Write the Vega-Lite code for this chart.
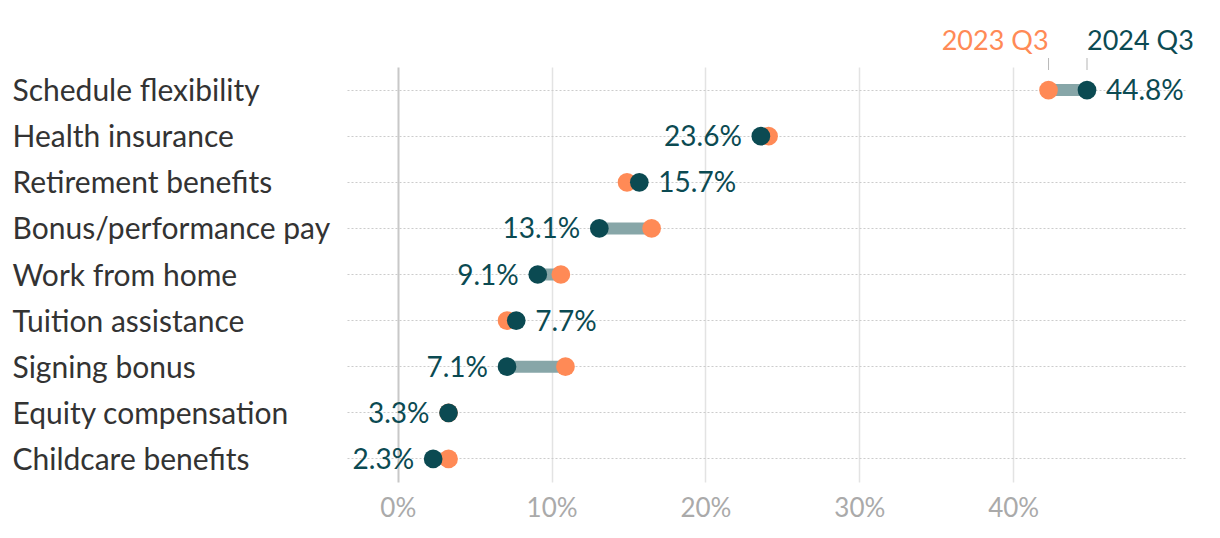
{
  "$schema": "https://vega.github.io/schema/vega-lite/v6.json",
  "width": 840,
  "height": 415,
  "autosize": {"type": "none"},
  "padding": {"left": 347, "top": 67, "right": 33, "bottom": 56},
  "background": "white",
  "config": {
    "view": {"stroke": null},
    "font": "Lato",
    "axisX": {"labelFontSize": 26, "labelColor": "#aaaaaa", "labelPadding": 13, "domain": false, "ticks": false, "title": null, "labelFont": "Lato"},
    "axisY": {"labelFontSize": 30, "labelColor": "#333333", "domain": false, "ticks": false, "title": null, "labelFont": "Lato", "labelLimit": 400}
  },
  "data": {
    "values": [
      {"benefit": "Schedule flexibility", "y2023": 0.423, "y2024": 0.448},
      {"benefit": "Health insurance", "y2023": 0.241, "y2024": 0.236},
      {"benefit": "Retirement benefits", "y2023": 0.149, "y2024": 0.157},
      {"benefit": "Bonus/performance pay", "y2023": 0.165, "y2024": 0.131},
      {"benefit": "Work from home", "y2023": 0.106, "y2024": 0.091},
      {"benefit": "Tuition assistance", "y2023": 0.071, "y2024": 0.077},
      {"benefit": "Signing bonus", "y2023": 0.109, "y2024": 0.071},
      {"benefit": "Equity compensation", "y2023": 0.033, "y2024": 0.033},
      {"benefit": "Childcare benefits", "y2023": 0.033, "y2024": 0.023}
    ]
  },
  "encoding": {
    "y": {
      "field": "benefit",
      "type": "nominal",
      "sort": null,
      "scale": {"paddingInner": 0, "paddingOuter": 0},
      "axis": {
        "grid": true,
        "gridDash": [2, 2],
        "gridColor": "#cccccc",
        "gridWidth": 1.2,
        "bandPosition": 0.5,
        "labelAlign": "left",
        "labelPadding": 335,
        "labelBaseline": "middle",
        "labelOffset": 2
      }
    }
  },
  "layer": [
    {
      "mark": {"type": "rule", "strokeWidth": 12, "color": "#87a6a8"},
      "encoding": {
        "x": {
          "field": "y2023",
          "type": "quantitative",
          "scale": {"domain": [-0.033, 0.513], "nice": false, "zero": false},
          "axis": {
            "format": ".0%",
            "values": [0, 0.1, 0.2, 0.3, 0.4],
            "grid": true,
            "gridColor": {"condition": {"test": "datum.value === 0", "value": "#c8c8c8"}, "value": "#e3e3e3"},
            "gridWidth": {"condition": {"test": "datum.value === 0", "value": 2}, "value": 1.5},
            "title": null
          }
        },
        "x2": {"field": "y2024"}
      }
    },
    {
      "mark": {"type": "circle", "size": 350, "opacity": 1, "color": "#ff8a56"},
      "encoding": {"x": {"field": "y2023", "type": "quantitative", "title": null}}
    },
    {
      "mark": {"type": "circle", "size": 350, "opacity": 1, "color": "#0b4a52"},
      "encoding": {"x": {"field": "y2024", "type": "quantitative", "title": null}}
    },
    {
      "transform": [{"filter": "datum.y2024 > datum.y2023"}],
      "mark": {"type": "text", "align": "left", "baseline": "middle", "dx": 19, "dy": 2, "fontSize": 28, "color": "#0b4a52"},
      "encoding": {
        "x": {"field": "y2024", "type": "quantitative", "title": null},
        "text": {"field": "y2024", "type": "quantitative", "format": ".1%"}
      }
    },
    {
      "transform": [{"filter": "datum.y2024 <= datum.y2023"}],
      "mark": {"type": "text", "align": "right", "baseline": "middle", "dx": -19, "dy": 2, "fontSize": 28, "color": "#0b4a52"},
      "encoding": {
        "x": {"field": "y2024", "type": "quantitative", "title": null},
        "text": {"field": "y2024", "type": "quantitative", "format": ".1%"}
      }
    },
    {
      "transform": [{"filter": "datum.benefit === 'Schedule flexibility'"}],
      "mark": {"type": "text", "align": "right", "baseline": "middle", "dy": -48, "fontSize": 27, "color": "#ff8a56", "text": "2023 Q3"},
      "encoding": {"x": {"field": "y2023", "type": "quantitative", "title": null}}
    },
    {
      "transform": [{"filter": "datum.benefit === 'Schedule flexibility'"}],
      "mark": {"type": "text", "align": "left", "baseline": "middle", "dy": -48, "fontSize": 27, "color": "#0b4a52", "text": "2024 Q3"},
      "encoding": {"x": {"field": "y2024", "type": "quantitative", "title": null}}
    },
    {
      "transform": [{"filter": "datum.benefit === 'Schedule flexibility'"}],
      "mark": {"type": "tick", "orient": "vertical", "size": 12, "thickness": 1, "yOffset": -26, "color": "#999999"},
      "encoding": {"x": {"field": "y2023", "type": "quantitative", "title": null}}
    },
    {
      "transform": [{"filter": "datum.benefit === 'Schedule flexibility'"}],
      "mark": {"type": "tick", "orient": "vertical", "size": 12, "thickness": 1, "yOffset": -26, "color": "#999999"},
      "encoding": {"x": {"field": "y2024", "type": "quantitative", "title": null}}
    }
  ]
}
